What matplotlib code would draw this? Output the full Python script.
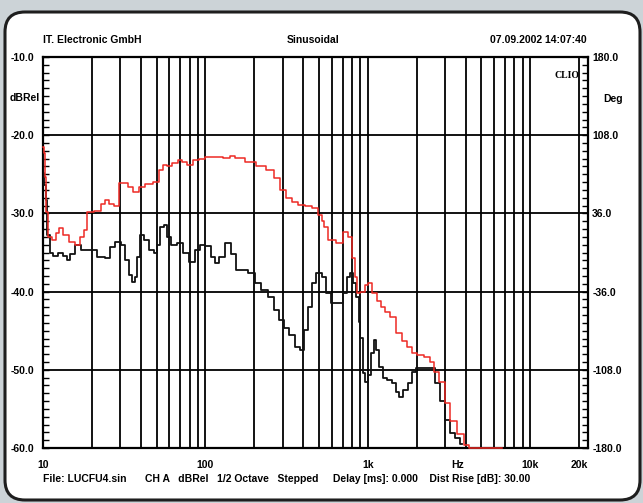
import numpy as np
import matplotlib.pyplot as plt
from matplotlib.patches import FancyBboxPatch
from matplotlib.ticker import FixedLocator, MultipleLocator, NullFormatter

# response curves, dBRel against frequency (Hz)
red_freq = [10, 10.15, 10.3, 10.6, 11.0, 11.7, 12.3, 12.9, 13.8, 15.0,
            16.5, 17.5, 18.2, 19.2, 22.1, 23.5, 24.7, 26.0, 28.4, 30.1,
            32.3, 34.5, 37.2, 40.5, 45, 50, 53, 56.8, 59.3, 65,
            70.3, 73.3, 80.9, 86.8, 95, 104, 120, 138, 144, 160,
            191, 221, 254, 275, 301, 330, 357, 388, 430, 480,
            508, 530, 552, 593, 683, 733, 787, 820, 844, 868,
            931, 980, 1028, 1104, 1160, 1236, 1320, 1423, 1571, 1700,
            1810, 1941, 2100, 2333, 2505, 2613, 2884, 3097, 3323, 3721,
            4104, 4285, 6730]
red_db = [-21.5, -22.3, -25.3, -29.8, -33.0, -33.4, -32.5, -31.9, -32.8, -33.6,
          -34.0, -33.0, -32.1, -29.8, -29.7, -28.8, -28.3, -28.8, -29.1, -26.1,
          -26.1, -26.6, -27.3, -26.6, -26.3, -26.0, -24.4, -23.8, -24.0, -23.6,
          -23.2, -23.4, -23.8, -23.2, -23.0, -22.8, -22.8, -22.9, -22.6, -22.9,
          -23.4, -24.0, -24.4, -25.5, -27.0, -28.0, -28.5, -28.9, -29.0, -29.3,
          -30.2, -31.0, -31.7, -33.4, -33.8, -32.4, -33.0, -35.7, -38.1, -40.2,
          -40.0, -39.2, -38.9, -40.2, -41.2, -42.0, -42.6, -43.2, -45.3, -46.3,
          -47.1, -47.8, -48.1, -48.4, -49.0, -50.3, -51.6, -54.2, -56.6, -58.2,
          -59.6, -60.0, -60.0]

black_freq = [10, 10.1, 10.3, 10.45, 10.75, 11.2, 11.7, 12.9, 13.6, 14.4,
              15.1, 16.4, 17.8, 20.6, 22.7, 25.4, 26.5, 29.3, 31.4, 32.8,
              34.7, 36.2, 37.2, 38.8, 40.5, 43.5, 46.6, 49.3, 51.5, 53.7,
              56.8, 59.3, 63.7, 70.3, 75.4, 82, 90.6, 94.5, 104, 112,
              117, 125, 138, 148, 159, 175, 191, 211, 232, 254,
              272, 292, 314, 337, 372, 388, 417, 441, 460, 494,
              545, 568, 627, 683, 733, 764, 798, 832, 868, 893,
              906, 959, 973, 1028, 1073, 1104, 1152, 1202, 1271, 1364,
              1464, 1528, 1594, 1710, 1810, 1941, 2000, 2250, 2505, 2688,
              2884, 3097, 3323, 3565, 3828]
black_db = [-22.0, -24.8, -26.4, -28.3, -32.8, -35.0, -35.5, -35.0, -35.5, -36.0,
            -35.2, -34.0, -34.7, -34.7, -35.6, -35.7, -34.3, -33.7, -34.0, -36.0,
            -37.9, -38.8, -38.1, -35.6, -32.8, -33.4, -34.7, -35.0, -34.0, -31.7,
            -31.5, -33.0, -34.0, -33.8, -35.0, -36.2, -34.7, -34.0, -34.2, -35.6,
            -36.4, -35.6, -33.8, -35.2, -37.2, -37.2, -37.6, -38.9, -39.8, -40.7,
            -42.3, -43.6, -44.6, -45.5, -47.1, -47.5, -44.9, -42.0, -38.9, -37.6,
            -38.1, -40.2, -41.5, -41.5, -40.2, -38.1, -37.6, -38.9, -40.7, -43.9,
            -45.9, -50.4, -51.6, -50.7, -47.9, -46.2, -47.5, -49.6, -51.0, -51.3,
            -51.7, -52.8, -53.5, -52.6, -51.7, -50.3, -49.8, -49.8, -49.8, -51.7,
            -54.0, -56.4, -58.1, -58.7, -59.5]

x_ticks = [10, 100, 1000, 3550, 10000, 20000]
x_labels = ["10", "100", "1k", "Hz", "10k", "20k"]
db_ticks = [-10, -20, -30, -40, -50, -60]
deg_ticks = [180, 108, 36, -36, -108, -180]

plt.rcParams['font.family'] = ['Liberation Sans Narrow', 'Liberation Sans', 'DejaVu Sans']
plt.rcParams['font.weight'] = 'bold'
plt.rcParams['font.size'] = 7.5

W, H = 643, 503
fig = plt.figure(figsize=(W / 100, H / 100), dpi=100)
fig.patch.set_facecolor("#ccd3d7")

# rounded white card behind the plot, drawn in pixel units
bg = fig.add_axes([0, 0, 1, 1])
bg.set_xlim(0, W)
bg.set_ylim(H, 0)
bg.axis("off")
bg.add_patch(FancyBboxPatch((5, 12), 635, 488, boxstyle="round,pad=0,rounding_size=20",
                            facecolor="white", edgecolor="#1e1e1e", linewidth=2.2))

L, R, T, B = 43, 588, 57, 448
ax = fig.add_axes([L / W, 1 - B / H, (R - L) / W, (B - T) / H])
ax.set_facecolor("white")
ax.set_xscale("log")
ax.set_xlim(10, 22700)
ax.set_ylim(-60, -10)

# vertical grid at every 1-2-...-9 step, horizontal grid at each 10 dB
vgrid = [m * 10 ** d for d in range(1, 5) for m in range(1, 10) if m * 10 ** d <= 20000]
for f in vgrid[1:]:
    ax.axvline(f, color="black", lw=1.3, zorder=1)
for v in db_ticks[1:-1]:
    ax.axhline(v, color="black", lw=1.3, zorder=1)

ax.plot(black_freq, black_db, drawstyle="steps-mid", color="#111111", lw=1.3, zorder=3)
ax.plot(red_freq, red_db, drawstyle="steps-mid", color="#ee2a24", lw=1.1, zorder=4,
        clip_on=False)

for s in ax.spines.values():
    s.set_linewidth(1.6)
    s.set_zorder(2)

ax.xaxis.set_major_locator(FixedLocator(x_ticks))
ax.set_xticklabels(x_labels)
ax.xaxis.set_minor_locator(FixedLocator([]))
ax.tick_params(axis="x", length=0, pad=9)

ax.set_yticks(db_ticks)
ax.set_yticklabels(["%.1f" % v for v in db_ticks])
ax.yaxis.set_minor_locator(MultipleLocator(1))
ax.tick_params(axis="y", which="both", direction="in", length=4, width=1, pad=6)

ax2 = ax.twinx()
ax2.set_ylim(-180, 180)
ax2.set_yticks(deg_ticks)
ax2.set_yticklabels(["%.1f" % v for v in deg_ticks])
ax2.yaxis.set_minor_locator(MultipleLocator(7.2))
ax2.tick_params(axis="y", which="both", direction="in", length=4, width=1, pad=3)
for s in ax2.spines.values():
    s.set_visible(False)

fig.text(25 / W, 1 - 98 / H, "dBRel", ha="center", va="center")
fig.text(603 / W, 1 - 99 / H, "Deg", ha="left", va="center")
ax.text(0.985, 0.965, "CLIO", transform=ax.transAxes, ha="right", va="top",
        family="Liberation Serif", fontsize=7, weight="bold")

fig.text(L / W, 1 - 40 / H, "IT. Electronic GmbH", ha="left", va="center")
fig.text(313 / W, 1 - 40 / H, "Sinusoidal", ha="center", va="center")
fig.text(587 / W, 1 - 40 / H, "07.09.2002 14:07:40", ha="right", va="center")

fig.text(L / W, 1 - 479 / H, "File: LUCFU4.sin", ha="left", va="center")
fig.text(145 / W, 1 - 479 / H,
         "CH A   dBRel   1/2 Octave   Stepped     Delay [ms]: 0.000    Dist Rise [dB]: 30.00",
         ha="left", va="center")

fig.savefig("out.png", dpi=100, facecolor=fig.get_facecolor())
